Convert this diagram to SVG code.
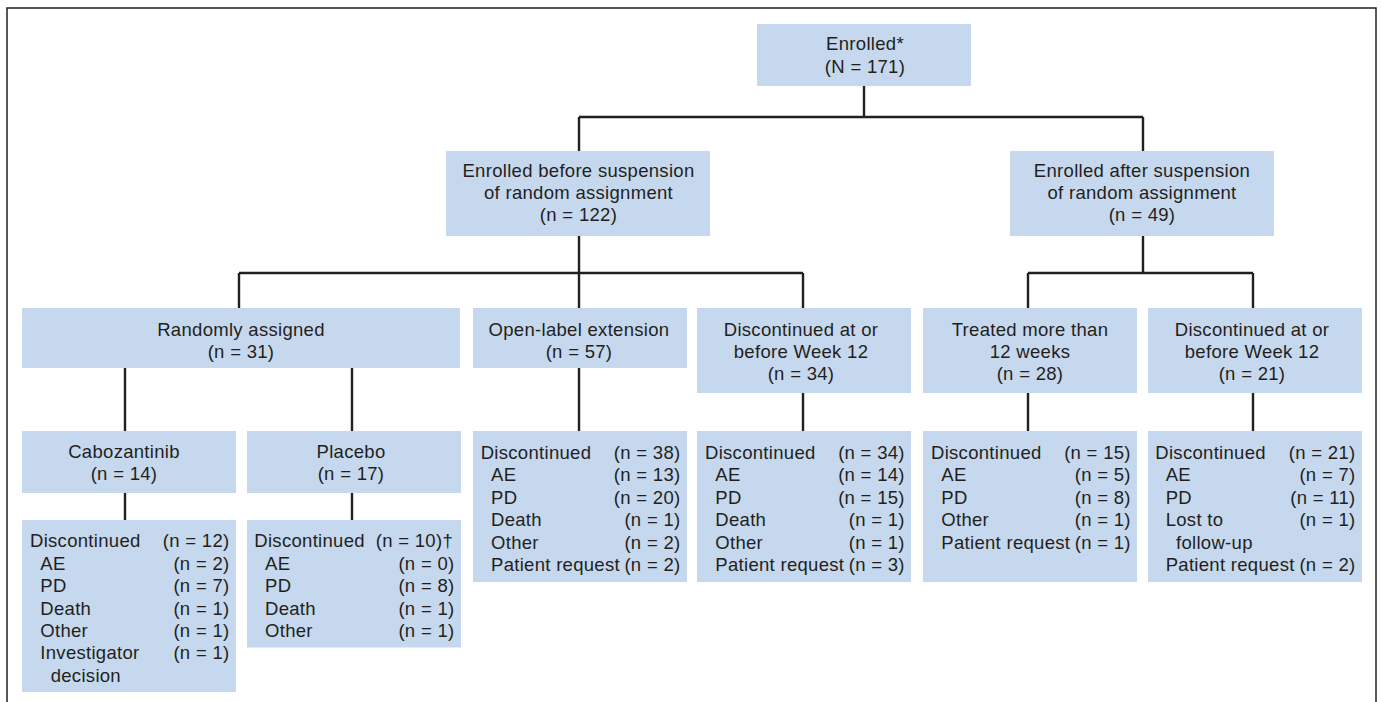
<svg xmlns="http://www.w3.org/2000/svg" width="1382" height="702" viewBox="0 0 1382 702">
<style>
.box{fill:#c6d8ee}
.t{font-family:"Liberation Sans",Arial,sans-serif;font-size:18.5px;fill:#231f20;letter-spacing:0.3px}
.c{text-anchor:middle}
.r{text-anchor:end}
.ln{stroke:#231f20;stroke-width:2.4;fill:none}
</style>
<rect x="0" y="0" width="1382" height="702" fill="#ffffff"/>
<rect x="7" y="8" width="1369" height="710" fill="none" stroke="#231f20" stroke-width="1.5"/>
<g id="connectors" class="ln">
<path d="M864,86 V117 M579,117 H1143 M579,117 V151 M1143,117 V151"/>
<path d="M579,236 V308 M239,273 H803 M239,273 V308 M803,273 V308"/>
<path d="M1143,236 V273 M1028,273 H1253 M1028,273 V308 M1253,273 V308"/>
<path d="M125,368 V431 M352,368 V431 M125,493 V520 M352,493 V520"/>
<path d="M579,368 V431 M803,393 V431 M1028,393 V431 M1253,393 V431"/>
</g>
<g id="enrolled">
<rect class="box" x="757" y="24" width="214" height="62"/>
<text class="t c" x="865" y="50">Enrolled*</text>
<text class="t c" x="865" y="72.7">(N = 171)</text>
</g>
<g id="before">
<rect class="box" x="446" y="151" width="264" height="85"/>
<text class="t c" x="578.5" y="176.7">Enrolled before suspension</text>
<text class="t c" x="578.5" y="199">of random assignment</text>
<text class="t c" x="578.5" y="221.3">(n = 122)</text>
</g>
<g id="after">
<rect class="box" x="1010" y="151" width="264" height="85"/>
<text class="t c" x="1142" y="176.7">Enrolled after suspension</text>
<text class="t c" x="1142" y="199">of random assignment</text>
<text class="t c" x="1142" y="221.3">(n = 49)</text>
</g>
<g id="randomly">
<rect class="box" x="22" y="308" width="438" height="60"/>
<text class="t c" x="241" y="335.7">Randomly assigned</text>
<text class="t c" x="241" y="357.5">(n = 31)</text>
</g>
<g id="openlabel">
<rect class="box" x="473" y="308" width="214" height="60"/>
<text class="t c" x="579" y="335.7">Open-label extension</text>
<text class="t c" x="579" y="357.5">(n = 57)</text>
</g>
<g id="disc34">
<rect class="box" x="697" y="308" width="214" height="85"/>
<text class="t c" x="801" y="335.7">Discontinued at or</text>
<text class="t c" x="801" y="357.5">before Week 12</text>
<text class="t c" x="801" y="380">(n = 34)</text>
</g>
<g id="treated">
<rect class="box" x="923" y="308" width="214" height="85"/>
<text class="t c" x="1030" y="335.7">Treated more than</text>
<text class="t c" x="1030" y="357.5">12 weeks</text>
<text class="t c" x="1030" y="380">(n = 28)</text>
</g>
<g id="disc21">
<rect class="box" x="1148" y="308" width="214" height="85"/>
<text class="t c" x="1252" y="335.7">Discontinued at or</text>
<text class="t c" x="1252" y="357.5">before Week 12</text>
<text class="t c" x="1252" y="380">(n = 21)</text>
</g>
<g id="cabozantinib">
<rect class="box" x="22" y="431" width="214" height="62"/>
<text class="t c" x="124" y="458.3">Cabozantinib</text>
<text class="t c" x="124" y="480.3">(n = 14)</text>
</g>
<g id="placebo">
<rect class="box" x="247" y="431" width="214" height="62"/>
<text class="t c" x="351" y="458.3">Placebo</text>
<text class="t c" x="351" y="480.3">(n = 17)</text>
</g>
<g id="cabo-disc">
<rect class="box" x="22" y="520" width="214" height="172"/>
<text class="t" x="30" y="547.3">Discontinued</text>
<text class="t r" x="229.5" y="547.3">(n = 12)</text>
<text class="t" x="40.3" y="569.7">AE</text>
<text class="t r" x="229.5" y="569.7">(n = 2)</text>
<text class="t" x="40.3" y="592.1">PD</text>
<text class="t r" x="229.5" y="592.1">(n = 7)</text>
<text class="t" x="40.3" y="614.5">Death</text>
<text class="t r" x="229.5" y="614.5">(n = 1)</text>
<text class="t" x="40.3" y="636.9">Other</text>
<text class="t r" x="229.5" y="636.9">(n = 1)</text>
<text class="t" x="40.3" y="659.3">Investigator</text>
<text class="t r" x="229.5" y="659.3">(n = 1)</text>
<text class="t" x="50.7" y="681.7">decision</text>
</g>
<g id="placebo-disc">
<rect class="box" x="247" y="520" width="214" height="127.5"/>
<text class="t" x="254.3" y="547.3">Discontinued</text>
<text class="t r" x="453" y="547.3">(n = 10)†</text>
<text class="t" x="265" y="569.7">AE</text>
<text class="t r" x="454.5" y="569.7">(n = 0)</text>
<text class="t" x="265" y="592.1">PD</text>
<text class="t r" x="454.5" y="592.1">(n = 8)</text>
<text class="t" x="265" y="614.5">Death</text>
<text class="t r" x="454.5" y="614.5">(n = 1)</text>
<text class="t" x="265" y="636.9">Other</text>
<text class="t r" x="454.5" y="636.9">(n = 1)</text>
</g>
<g id="openlabel-disc">
<rect class="box" x="473" y="431" width="214" height="151"/>
<text class="t" x="480.7" y="459">Discontinued</text>
<text class="t r" x="680.5" y="459">(n = 38)</text>
<text class="t" x="491" y="481.4">AE</text>
<text class="t r" x="680.5" y="481.4">(n = 13)</text>
<text class="t" x="491" y="503.8">PD</text>
<text class="t r" x="680.5" y="503.8">(n = 20)</text>
<text class="t" x="491" y="526.2">Death</text>
<text class="t r" x="680.5" y="526.2">(n = 1)</text>
<text class="t" x="491" y="548.6">Other</text>
<text class="t r" x="680.5" y="548.6">(n = 2)</text>
<text class="t" x="491" y="571">Patient request</text>
<text class="t r" x="680.5" y="571">(n = 2)</text>
</g>
<g id="disc34-detail">
<rect class="box" x="697" y="431" width="214" height="151"/>
<text class="t" x="705" y="459">Discontinued</text>
<text class="t r" x="904.8" y="459">(n = 34)</text>
<text class="t" x="715.3" y="481.4">AE</text>
<text class="t r" x="904.8" y="481.4">(n = 14)</text>
<text class="t" x="715.3" y="503.8">PD</text>
<text class="t r" x="904.8" y="503.8">(n = 15)</text>
<text class="t" x="715.3" y="526.2">Death</text>
<text class="t r" x="904.8" y="526.2">(n = 1)</text>
<text class="t" x="715.3" y="548.6">Other</text>
<text class="t r" x="904.8" y="548.6">(n = 1)</text>
<text class="t" x="715.3" y="571">Patient request</text>
<text class="t r" x="904.8" y="571">(n = 3)</text>
</g>
<g id="treated-detail">
<rect class="box" x="923" y="431" width="214" height="151"/>
<text class="t" x="931" y="459">Discontinued</text>
<text class="t r" x="1130.8" y="459">(n = 15)</text>
<text class="t" x="941.3" y="481.4">AE</text>
<text class="t r" x="1130.8" y="481.4">(n = 5)</text>
<text class="t" x="941.3" y="503.8">PD</text>
<text class="t r" x="1130.8" y="503.8">(n = 8)</text>
<text class="t" x="941.3" y="526.2">Other</text>
<text class="t r" x="1130.8" y="526.2">(n = 1)</text>
<text class="t" x="941.3" y="548.6">Patient request</text>
<text class="t r" x="1130.8" y="548.6">(n = 1)</text>
</g>
<g id="disc21-detail">
<rect class="box" x="1148" y="431" width="214" height="151"/>
<text class="t" x="1155.3" y="459">Discontinued</text>
<text class="t r" x="1355.5" y="459">(n = 21)</text>
<text class="t" x="1165.7" y="481.4">AE</text>
<text class="t r" x="1355.5" y="481.4">(n = 7)</text>
<text class="t" x="1165.7" y="503.8">PD</text>
<text class="t r" x="1355.5" y="503.8">(n = 11)</text>
<text class="t" x="1165.7" y="526.2">Lost to</text>
<text class="t r" x="1355.5" y="526.2">(n = 1)</text>
<text class="t" x="1176" y="548.6">follow-up</text>
<text class="t" x="1165.7" y="571">Patient request</text>
<text class="t r" x="1355.5" y="571">(n = 2)</text>
</g>
</svg>
